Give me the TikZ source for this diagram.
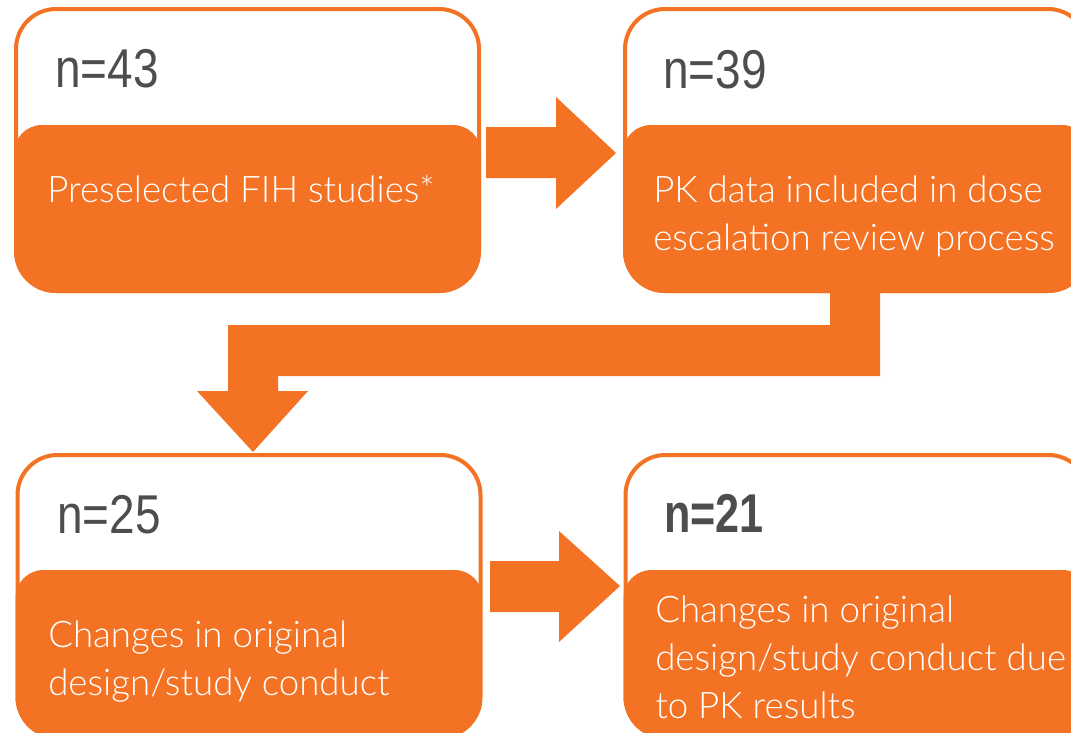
\documentclass[tikz,border=0pt]{standalone}
\usepackage{fontspec}
\setmainfont{Liberation Sans}
\IfFontExistsTF{Lato Light}{%
  \newfontfamily\bodyfont{Lato Light}\newcommand\bodysize{27.5}}{%
  \newfontfamily\bodyfont{Liberation Sans}\newcommand\bodysize{26.5}}
\newfontfamily\numfont[FakeStretch=0.84]{Liberation Sans}
\newfontfamily\numboldfont[FakeStretch=0.79]{Liberation Sans}
\definecolor{orng}{RGB}{243,114,36}
\definecolor{numgray}{RGB}{77,77,79}
\tikzset{
  boxframe/.style={draw=orng, line width=3pt, fill=white, rounded corners=30pt,
    inner sep=0pt, minimum width=347.25pt, minimum height=211.5pt},
  numtxt/.style={anchor=base west, inner sep=0pt, text=numgray,
    font=\numfont\fontsize{41}{41}\selectfont},
  numbold/.style={anchor=base west, inner sep=0pt, text=numgray,
    font=\numboldfont\bfseries\fontsize{41}{41}\selectfont},
  bodytxt/.style={anchor=base west, inner sep=0pt, text=white,
    font=\bodyfont\fontsize{\bodysize}{36}\selectfont},
  blockarrow/.style={fill=orng, draw=none}
}
\begin{document}
\begin{tikzpicture}[x=0.75pt,y=-0.75pt]
\useasboundingbox (0,0) rectangle (1071,732);
\clip (0,0) rectangle (1071,732);
% frames
\node[boxframe] (b1) at (247.5,150) {};
\node[boxframe] (b2) at (856.5,150) {};
\node[boxframe] (b3) at (249,596) {};
\node[boxframe] (b4) at (857,596) {};
% orange lower parts
\begin{scope}
  \clip[rounded corners=31.5pt] (14,7) rectangle (481,293);
  \fill[orng, rounded corners=21pt] (14,125) rectangle (481,340);
\end{scope}
\begin{scope}
  \clip[rounded corners=31.5pt] (623,7) rectangle (1090,293);
  \fill[orng, rounded corners=21pt] (623,125) rectangle (1090,340);
\end{scope}
\begin{scope}
  \clip[rounded corners=31.5pt] (15.5,453) rectangle (482.5,739);
  \fill[orng, rounded corners=21pt] (15.5,570) rectangle (482.5,790);
\end{scope}
\begin{scope}
  \clip[rounded corners=31.5pt] (623.5,453) rectangle (1090.5,739);
  \fill[orng, rounded corners=21pt] (623.5,570) rectangle (1090.5,790);
\end{scope}
% block arrows
\fill[blockarrow] (486,127) -- (556,127) -- (556,97) -- (616,153) -- (556,209)
  -- (556,178) -- (486,178) -- cycle;
\fill[blockarrow] (490,561) -- (559,561) -- (559,531) -- (620,586) -- (559,642)
  -- (559,612) -- (490,612) -- cycle;
\fill[blockarrow] (830,290) -- (880,290) -- (880,376) -- (278,376) -- (278,391)
  -- (308,391) -- (253,452) -- (197,391) -- (228,391) -- (228,325) -- (830,325) -- cycle;
% texts
\node[numtxt] (n1) at (55,87) {n=43};
\node[bodytxt] (t1) at (47,202) {Preselected FIH studies*};
\node[numtxt] (n2) at (663,88) {n=39};
\node[bodytxt] (t2a) at (653,202) {PK data included in dose};
\node[bodytxt] (t2b) at (653,250) {escalation review process};
\node[numtxt] (n3) at (57,533) {n=25};
\node[bodytxt] (t3a) at (48,647) {Changes in original};
\node[bodytxt] (t3b) at (48,695) {design/study conduct};
\node[numbold] (n4) at (664,532) {n=21};
\node[bodytxt] (t4a) at (655,622) {Changes in original};
\node[bodytxt] (t4b) at (655,670) {design/study conduct due};
\node[bodytxt] (t4c) at (655,718) {to PK results};
\end{tikzpicture}
\end{document}
